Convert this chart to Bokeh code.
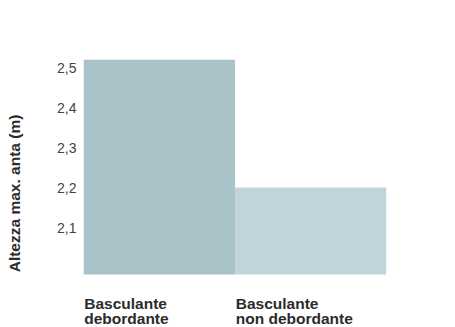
from bokeh.plotting import figure
from bokeh.models import FixedTicker, Range1d
from bokeh.core.properties import value
from bokeh.embed import file_html
from bokeh.resources import INLINE

categories = ["Basculante\ndebordante", "Basculante\nnon debordante"]
heights = [2.52, 2.2]
colors = ["#a9c3c9", "#c2d5da"]
ticks = [2.1, 2.2, 2.3, 2.4, 2.5]
tick_labels = ["2,1", "2,2", "2,3", "2,4", "2,5"]
BASE = 1.9825

FONT = "Liberation Sans"

p = figure(width=439, height=327, output_backend="svg", toolbar_location=None,
           x_range=Range1d(0, 2), y_range=Range1d(1.85, 2.52),
           min_border_top=59, min_border_right=53, min_border_bottom=0, min_border_left=83)

xs = [i + 0.5 for i in range(len(categories))]
p.vbar(x=xs, top=heights, bottom=BASE, width=1.0, fill_color=colors, line_color=None)

for i, cat in enumerate(categories):
    lines = cat.split("\n")
    for j, ln in enumerate(lines):
        p.text(x=[i + 0.005], y=[1.91 - j * 0.0375], text=[ln], text_font=value(FONT),
               text_font_style="bold", text_font_size="15.5px", text_color="#2b2b2b",
               text_baseline="alphabetic", text_align="left")

p.xaxis.visible = False
p.xgrid.visible = False
p.ygrid.visible = False
p.outline_line_color = None

ya = p.yaxis[0]
ya.ticker = FixedTicker(ticks=ticks)
ya.major_label_overrides = {t: l for t, l in zip(ticks, tick_labels)}
ya.axis_line_color = None
ya.major_tick_line_color = None
ya.minor_tick_line_color = None
ya.major_tick_out = 0
ya.major_tick_in = 0
ya.major_label_standoff = 7
ya.major_label_text_font = FONT
ya.major_label_text_font_size = "14px"
ya.major_label_text_color = "#444444"
ya.axis_label = "Altezza max. anta (m)"
ya.axis_label_text_font = FONT
ya.axis_label_text_font_style = "bold"
ya.axis_label_text_font_size = "15.5px"
ya.axis_label_text_color = "#2b2b2b"
ya.axis_label_standoff = 31

open("out.html", "w").write(file_html(p, INLINE))
